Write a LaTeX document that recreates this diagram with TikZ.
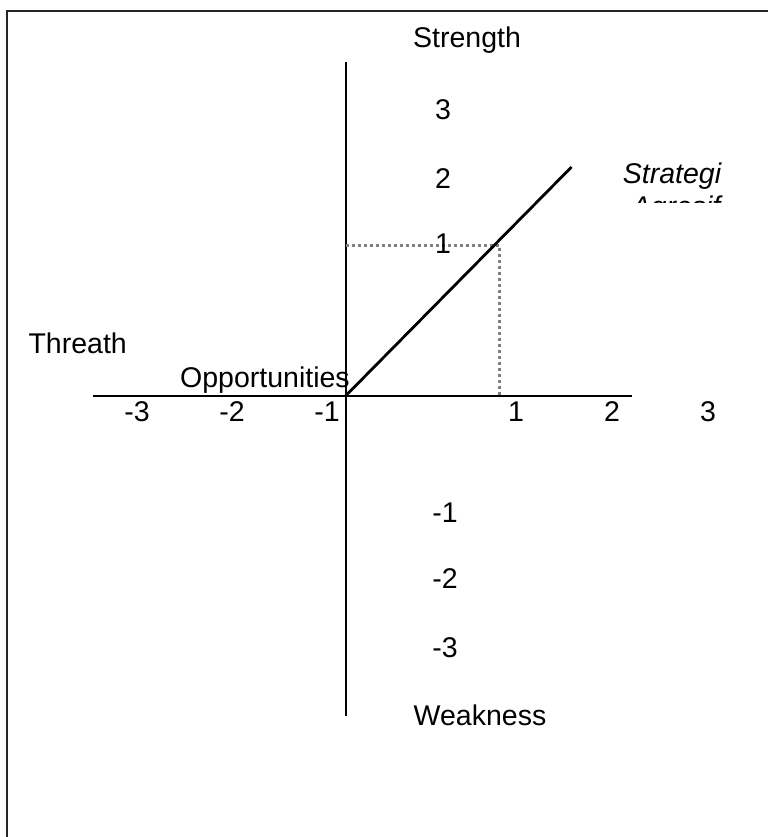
\documentclass[tikz,border=0pt]{standalone}
\usepackage{fontspec}
\setmainfont{Liberation Sans}
\begin{document}
\begin{tikzpicture}[x=1pt,y=-1pt,
  lbl/.style={inner sep=0pt,anchor=base,font=\fontsize{28.5}{33}\selectfont},
  axisline/.style={line width=2pt,black},
  frameline/.style={line width=2pt,black!85},
  diag/.style={line width=2.8pt,black},
  guide/.style={line width=3pt,black!50,dash pattern=on 3pt off 3pt}]
\useasboundingbox (0,0) rectangle (768,837);
% frame (only top and left edges visible)
\coordinate (fa) at (7,837);
\coordinate (fb) at (7,11);
\coordinate (fc) at (768,11);
\draw[frameline] (fa) -- (fb) -- (fc);
% axes
\coordinate (vtop) at (345.5,62);
\coordinate (vbot) at (345.5,716);
\coordinate (hleft) at (93,396);
\coordinate (hright) at (632,396);
\coordinate (o) at (345.5,396);
\draw[axisline] (vtop) -- (vbot);
\draw[axisline] (hleft) -- (hright);
% guides
\coordinate (g1) at (345.5,245);
\coordinate (g2) at (499,245);
\coordinate (g3) at (499,396);
\draw[guide] (g1) -- (g2) -- (g3);
% diagonal
\coordinate (dend) at (571.5,167);
\draw[diag] (o) -- (dend);
% labels
\node[lbl] (strength) at (467,48) {Strength};
\node[lbl] (y3) at (443,120) {3};
\node[lbl] (y2) at (443,188) {2};
\node[lbl] (y1) at (443,253) {1};
\node[lbl,anchor=base east] (threath) at (127,353) {Threath};
\node[lbl,anchor=base west] (opp) at (180,387) {Opportunities};
\node[lbl] (xm3) at (137,421) {-3};
\node[lbl] (xm2) at (232,421) {-2};
\node[lbl] (xm1) at (327,421) {-1};
\node[lbl] (x1) at (516,421) {1};
\node[lbl] (x2) at (612,421) {2};
\node[lbl] (x3) at (708,421) {3};
\node[lbl] (ym1) at (445,522) {-1};
\node[lbl] (ym2) at (445,588) {-2};
\node[lbl] (ym3) at (445,657) {-3};
\node[lbl] (weak) at (480,725) {Weakness};
\begin{scope}
\clip (590,140) rectangle (768,202);
\node[lbl,font=\fontsize{28.5}{33}\selectfont\itshape] (strat) at (672,183) {Strategi};
\node[lbl,font=\fontsize{28.5}{33}\selectfont\itshape] (agr) at (676,216) {Agresif};
\end{scope}
\end{tikzpicture}
\end{document}
